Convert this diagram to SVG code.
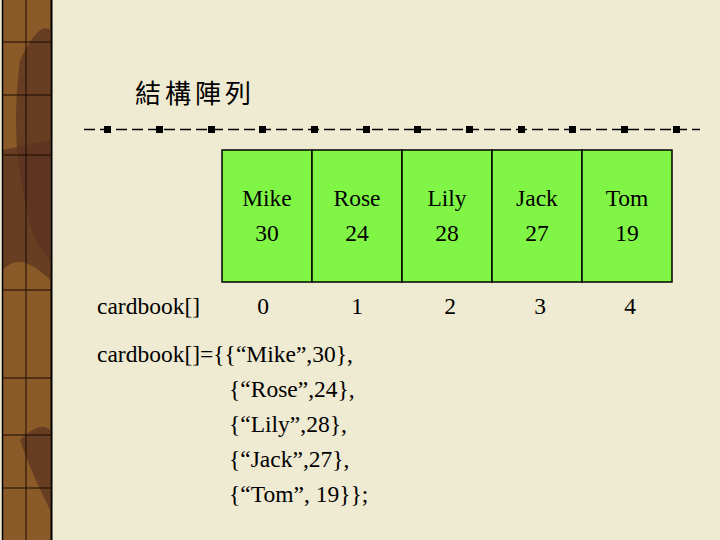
<svg xmlns="http://www.w3.org/2000/svg" width="720" height="540" viewBox="0 0 720 540">
<style>
text{font-family:"Liberation Serif","Noto Sans CJK TC",serif;font-size:23.5px;fill:#000}
.c{text-anchor:middle}
.box{fill:#80F546;stroke:#000;stroke-width:1.5}
</style>
<rect width="720" height="540" fill="#EFEAD2"/>
<g id="strip">
<rect x="2" y="0" width="50" height="540" fill="#8A5A28"/>
<path d="M20 60 Q40 20 50 30 L50 260 Q30 240 25 200 Q10 140 20 60Z" fill="#5A3220" opacity="0.7"/>
<path d="M3 150 L50 140 L50 280 Q20 250 3 270Z" fill="#5A3220" opacity="0.7"/>
<path d="M20 440 Q40 420 50 430 L50 510 Q30 470 20 440Z" fill="#5A3220" opacity="0.7"/>
<g stroke="#1a0a00" stroke-width="1">
<line x1="26" y1="0" x2="26" y2="540"/>
<line x1="3" y1="42" x2="51" y2="42"/><line x1="3" y1="95" x2="51" y2="95"/>
<line x1="3" y1="155" x2="51" y2="155"/><line x1="3" y1="290" x2="51" y2="290"/>
<line x1="3" y1="378" x2="51" y2="378"/><line x1="3" y1="435" x2="51" y2="435"/>
<line x1="3" y1="488" x2="51" y2="488"/>
</g>
<line x1="51.5" y1="0" x2="51.5" y2="540" stroke="#000" stroke-width="2"/>
<line x1="2.5" y1="0" x2="2.5" y2="540" stroke="#000" stroke-width="1.5"/>
</g>
<text x="135" y="103" style="font-size:26px;letter-spacing:4px">結構陣列</text>
<g id="rule">
<line x1="84" y1="129.5" x2="700" y2="129.5" stroke="#000" stroke-width="1.3" stroke-dasharray="11,5"/>
<g fill="#000">
<rect x="104" y="126" width="7" height="7"/><rect x="156" y="126" width="7" height="7"/><rect x="208" y="126" width="7" height="7"/><rect x="259" y="126" width="7" height="7"/><rect x="311" y="126" width="7" height="7"/><rect x="363" y="126" width="7" height="7"/><rect x="414" y="126" width="7" height="7"/><rect x="466" y="126" width="7" height="7"/><rect x="518" y="126" width="7" height="7"/><rect x="569" y="126" width="7" height="7"/><rect x="621" y="126" width="7" height="7"/><rect x="673" y="126" width="7" height="7"/>
</g>
</g>
<g id="b0"><rect class="box" x="222" y="150" width="90" height="132"/><text class="c" x="267" y="206">Mike</text><text class="c" x="267" y="241">30</text></g>
<g id="b1"><rect class="box" x="312" y="150" width="90" height="132"/><text class="c" x="357" y="206">Rose</text><text class="c" x="357" y="241">24</text></g>
<g id="b2"><rect class="box" x="402" y="150" width="90" height="132"/><text class="c" x="447" y="206">Lily</text><text class="c" x="447" y="241">28</text></g>
<g id="b3"><rect class="box" x="492" y="150" width="90" height="132"/><text class="c" x="537" y="206">Jack</text><text class="c" x="537" y="241">27</text></g>
<g id="b4"><rect class="box" x="582" y="150" width="90" height="132"/><text class="c" x="627" y="206">Tom</text><text class="c" x="627" y="241">19</text></g>
<text x="97" y="314">cardbook[]</text>
<text class="c" x="263" y="314">0</text><text class="c" x="357" y="314">1</text><text class="c" x="450" y="314">2</text><text class="c" x="540" y="314">3</text><text class="c" x="630" y="314">4</text>
<text x="97" y="362">cardbook[]={{“Mike”,30},</text>
<text x="229" y="397">{“Rose”,24},</text>
<text x="229" y="432">{“Lily”,28},</text>
<text x="229" y="467">{“Jack”,27},</text>
<text x="229" y="502">{“Tom”, 19}};</text>
</svg>
